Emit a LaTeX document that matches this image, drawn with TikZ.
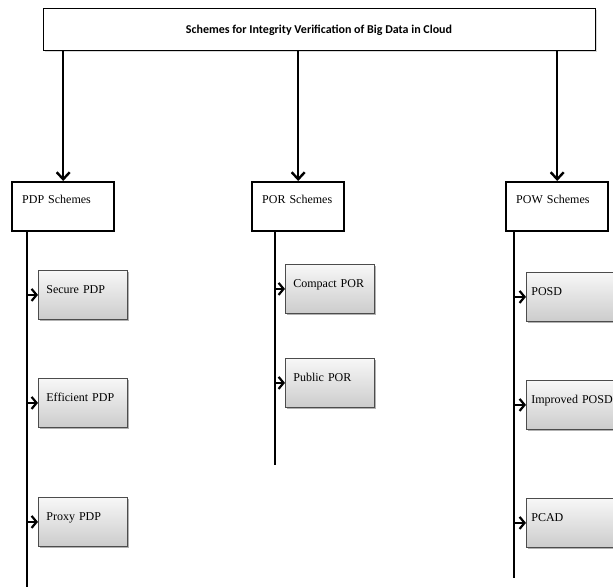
\documentclass[tikz,border=0pt]{standalone}
\usepackage{fontspec}
\setmainfont{Liberation Serif}
\newfontfamily\titlefont{Carlito}
\usetikzlibrary{arrows.meta,shadows}

\tikzset{
  titlebox/.style={draw=black, line width=1pt, fill=white, minimum width=552pt, minimum height=42pt,
    font=\titlefont\bfseries\fontsize{12}{14}\selectfont,
    drop shadow={shadow xshift=1.5pt, shadow yshift=-1.5pt, fill=black, opacity=0.15}},
  groupbox/.style={draw=black, line width=2.4pt, fill=white, anchor=north west, align=left,
    inner xsep=10pt, text width=#1, minimum height=49pt, text height=8pt, text depth=14pt,
    font=\fontsize{12}{14}\selectfont},
  schemebox/.style={draw=black!70, line width=0.8pt, top color=gray!6, bottom color=gray!40,
    anchor=north west, align=left, inner xsep=8pt, text width=#1, minimum height=49pt,
    text height=8pt, text depth=10pt, font=\fontsize{12}{14}\selectfont,
    drop shadow={shadow xshift=2pt, shadow yshift=-2pt, fill=black, opacity=0.3}},
  droparrow/.style={line width=2.4pt, -{Straight Barb[length=7pt,width=13pt]}},
  spine/.style={line width=2.4pt},
  feed/.style={line width=2.2pt, -{Straight Barb[length=5pt,width=12pt]}},
}

\begin{document}
\begin{tikzpicture}[x=1pt, y=-1pt]
  \useasboundingbox (0,0) rectangle (613,588);
  \clip (0,0) rectangle (613,588);

  % Title
  \node[titlebox] (title) at (319,30) {Schemes for Integrity Verification of Big Data in Cloud};

  % Scheme groups
  \node[groupbox=82pt] (pdp) at (11,181) {PDP Schemes};
  \node[groupbox=72pt] (por) at (251,181) {POR Schemes};
  \node[groupbox=82pt] (pow) at (505,181) {POW Schemes};

  \foreach \g in {pdp,por,pow} {
    \draw[droparrow] (title.south -| \g.north) -- (\g.north);
  }

  % Spines
  \coordinate (pdpspine) at (27,587);
  \coordinate (porspine) at (275,465);
  \coordinate (powspine) at (514,578);
  \foreach \g in {pdp,por,pow} {
    \draw[spine] (\g.south -| \g spine) -- (\g spine);
  }

  % PDP schemes
  \foreach \name/\ytop/\txt in {pdpa/270/Secure PDP, pdpb/378/Efficient PDP, pdpc/497/Proxy PDP} {
    \node[schemebox=73pt] (\name) at (38,\ytop) {\txt};
    \draw[feed] (pdpspine |- \name.west) -- (\name.west);
  }

  % POR schemes
  \foreach \name/\ytop/\txt in {pora/264/Compact POR, porb/358/Public POR} {
    \node[schemebox=73pt] (\name) at (285,\ytop) {\txt};
    \draw[feed] (porspine |- \name.west) -- (\name.west);
  }

  % POW schemes (boxes run past the right edge)
  \foreach \name/\ytop/\txt in {powa/272/POSD, powb/380/Improved POSD, powc/498/PCAD} {
    \node[schemebox=90pt, inner xsep=5pt] (\name) at (526,\ytop) {\txt};
    \draw[feed] (powspine |- \name.west) -- (\name.west);
  }
\end{tikzpicture}
\end{document}
